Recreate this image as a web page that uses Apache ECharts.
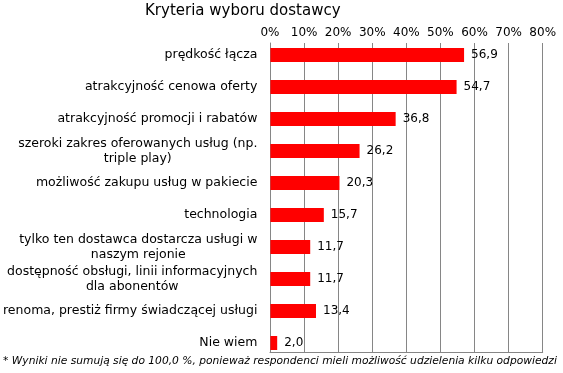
<!DOCTYPE html>
<html>
<head>
<meta charset="utf-8">
<script src="https://cdn.jsdelivr.net/npm/echarts@6/dist/echarts.min.js"></script>
<style>html,body{margin:0;padding:0;background:#fff}#c{width:563px;height:373px}</style>
</head>
<body>
<div id="c"></div>
<script>
const categories = [
  'prędkość łącza',
  'atrakcyjność cenowa oferty',
  'atrakcyjność promocji i rabatów',
  'szeroki zakres oferowanych usług (np.\ntriple play)',
  'możliwość zakupu usług w pakiecie',
  'technologia',
  'tylko ten dostawca dostarcza usługi w\nnaszym rejonie',
  'dostępność obsługi, linii informacyjnych\ndla abonentów',
  'renoma, prestiż firmy świadczącej usługi',
  'Nie wiem'
];
const values = [56.9, 54.7, 36.8, 26.2, 20.3, 15.7, 11.7, 11.7, 13.4, 2.0];
const xTicks = { min: 0, max: 80, interval: 10 };
const titleText = 'Kryteria wyboru dostawcy';
const footnote = '* Wyniki nie sumują się do 100,0 %, ponieważ respondenci mieli możliwość udzielenia kilku odpowiedzi';

const FONT = 'DejaVu Sans';
const chart = echarts.init(document.getElementById('c'));
chart.setOption({
  animation: false,
  backgroundColor: '#fff',
  title: [
    { text: titleText, left: 145, top: 4, padding: 0,
      textStyle: { fontFamily: FONT, fontSize: 15, fontWeight: 'normal', color: '#000' } },
    { text: footnote, left: 3, top: 356, padding: 0,
      textStyle: { fontFamily: FONT, fontSize: 10.7, fontStyle: 'italic', fontWeight: 'normal', color: '#000' } }
  ],
  grid: [
    { left: 270, right: 20.3, top: 39, height: 320 },
    { left: 270, right: 20.3, top: 43, height: 309 }
  ],
  xAxis: [
    { gridIndex: 0, type: 'value', min: xTicks.min, max: xTicks.max, show: false },
    { gridIndex: 1, type: 'value', position: 'top', min: xTicks.min, max: xTicks.max, interval: xTicks.interval,
      axisLine: { show: true, lineStyle: { color: '#868686' } },
      axisTick: { show: true, length: 3, lineStyle: { color: '#868686' } },
      splitLine: { show: true, lineStyle: { color: '#868686', width: 1 } },
      axisLabel: { margin: 4, formatter: '{value}%', fontFamily: FONT, fontSize: 12, color: '#000' } }
  ],
  yAxis: [
    { gridIndex: 0, type: 'category', inverse: true, data: categories,
      axisLine: { show: false }, axisTick: { show: false }, splitLine: { show: false },
      axisLabel: { margin: 13, interval: 0, fontFamily: FONT, fontSize: 12.5, color: '#000', lineHeight: 15,
        formatter: v => v.split('\n').map(l => '{c|' + l + '}').join('\n'),
        rich: { c: { align: 'center', fontFamily: FONT, fontSize: 12.5, color: '#000', lineHeight: 15 } } } },
    { gridIndex: 1, type: 'value', min: 0, max: 1,
      axisLine: { show: true, lineStyle: { color: '#868686' } },
      axisTick: { show: false }, axisLabel: { show: false }, splitLine: { show: false } }
  ],
  series: [{
    type: 'bar', xAxisIndex: 0, yAxisIndex: 0, data: values, barWidth: 14,
    itemStyle: { color: '#ff0000' },
    label: { show: true, position: 'right', distance: 7, fontFamily: FONT, fontSize: 12, color: '#000',
      formatter: p => p.value.toFixed(1).replace('.', ',') }
  }]
});
</script>
</body>
</html>
